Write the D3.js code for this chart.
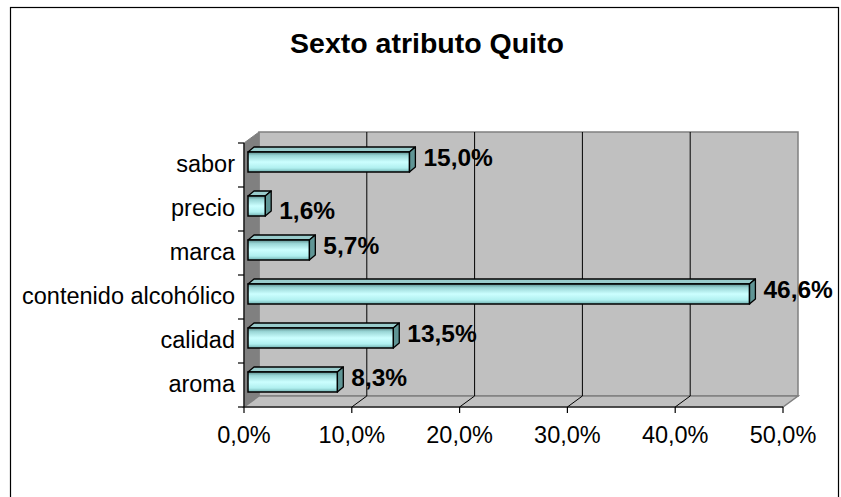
<!DOCTYPE html>
<html>
<head>
<meta charset="utf-8">
<script src="https://cdn.jsdelivr.net/npm/d3@7"></script>
<style>
  html, body { margin: 0; padding: 0; background: #fff; }
  svg { display: block; }
  text { font-family: "Liberation Sans", Arial, sans-serif; fill: #000; }
</style>
</head>
<body>
<svg id="chart" width="841" height="497"></svg>
<script>
// ---- data ----
const title = "Sexto atributo Quito";
const categories = ["sabor", "precio", "marca", "contenido alcohólico", "calidad", "aroma"];
const values = [0.150, 0.016, 0.057, 0.466, 0.135, 0.083];
const valueLabels = ["15,0%", "1,6%", "5,7%", "46,6%", "13,5%", "8,3%"];
const tickValues = [0, 0.1, 0.2, 0.3, 0.4, 0.5];
const tickLabels = ["0,0%", "10,0%", "20,0%", "30,0%", "40,0%", "50,0%"];

// ---- layout ----
const svg = d3.select("#chart");
const front = { left: 244, right: 783, top: 143, bottom: 407 };
const depth = { dx: 15, dy: -11 };   // wall depth offset
const barDepth = { dx: 6, dy: -5 };

const x = d3.scaleLinear().domain([0, 0.5]).range([front.left, front.right]);
const xBar = d3.scaleLinear().domain([0, 0.5]).range([front.left + 4, front.right + 3]);
const y = d3.scaleBand().domain(categories).range([front.top, front.bottom]).paddingInner(0).paddingOuter(0);

// outer border
svg.append("rect").attr("x", 10.5).attr("y", 7.5).attr("width", 828).attr("height", 520)
  .attr("fill", "#fff").attr("stroke", "#000").attr("stroke-width", 1.2);

// title
svg.append("text").attr("x", 427).attr("y", 53).attr("text-anchor", "middle")
  .style("font-size", "28.5px").style("font-weight", "bold").text(title);

// defs gradient
const defs = svg.append("defs");
const g1 = defs.append("linearGradient").attr("id", "barGrad").attr("x1", 0).attr("y1", 0).attr("x2", 0).attr("y2", 1);
[[0, "#5f9090"], [0.18, "#99d6d6"], [0.5, "#ccffff"], [0.8, "#b0f0f0"], [1, "#70b0b0"]].forEach(([o, c]) =>
  g1.append("stop").attr("offset", o).attr("stop-color", c));

// back wall
const bx0 = front.left + depth.dx, bx1 = front.right + depth.dx;
const by0 = front.top + depth.dy, by1 = front.bottom + depth.dy;
svg.append("rect").attr("x", bx0).attr("y", by0).attr("width", bx1 - bx0).attr("height", by1 - by0)
  .attr("fill", "#c0c0c0").attr("stroke", "#808080").attr("stroke-width", 1.5);

// left side wall
svg.append("polygon")
  .attr("points", [[front.left, front.top], [bx0, by0], [bx0, by1], [front.left, front.bottom]].map(p => p.join(",")).join(" "))
  .attr("fill", "#808080").attr("stroke", "#808080").attr("stroke-width", 1);

// floor
svg.append("polygon")
  .attr("points", [[front.left, front.bottom], [bx0, by1], [bx1, by1], [front.right, front.bottom]].map(p => p.join(",")).join(" "))
  .attr("fill", "#c0c0c0").attr("stroke", "#808080").attr("stroke-width", 1.5);

// gridlines on back wall + floor
const inner = tickValues.filter(v => v > 0 && v < 0.5);
svg.append("g").selectAll("path").data(inner).join("path")
  .attr("d", v => `M${x(v) + depth.dx},${by0} L${x(v) + depth.dx},${by1} L${x(v)},${front.bottom}`)
  .attr("fill", "none").attr("stroke", "#000").attr("stroke-width", 1);

// axes lines
svg.append("line").attr("x1", front.left).attr("x2", front.right).attr("y1", front.bottom).attr("y2", front.bottom)
  .attr("stroke", "#000").attr("stroke-width", 1.2);
svg.append("line").attr("x1", front.left).attr("x2", front.left).attr("y1", front.top).attr("y2", front.bottom)
  .attr("stroke", "#000").attr("stroke-width", 1.2);

// x ticks and labels
const xt = svg.append("g");
xt.selectAll("line").data(tickValues).join("line")
  .attr("x1", d => x(d)).attr("x2", d => x(d)).attr("y1", front.bottom).attr("y2", front.bottom + 6)
  .attr("stroke", "#000").attr("stroke-width", 1.2);
xt.selectAll("text").data(tickValues).join("text")
  .attr("x", d => x(d)).attr("y", 443).attr("text-anchor", "middle")
  .style("font-size", "23.5px").text((d, i) => tickLabels[i]);

// y ticks (band boundaries)
const bounds = categories.map(c => y(c)).concat([front.bottom]);
svg.append("g").selectAll("line").data(bounds).join("line")
  .attr("x1", front.left - 6).attr("x2", front.left).attr("y1", d => d).attr("y2", d => d)
  .attr("stroke", "#000").attr("stroke-width", 1.2);

// category labels
svg.append("g").selectAll("text").data(categories).join("text")
  .attr("x", 235).attr("y", d => y(d) + y.bandwidth() / 2 + 7).attr("text-anchor", "end")
  .style("font-size", "23.5px").text(d => d);

// bars
const barTopOff = 9, barH = 20;
const bars = svg.append("g").selectAll("g").data(categories.map((c, i) => ({ c, v: values[i], label: valueLabels[i] }))).join("g");
bars.each(function (d) {
  const g = d3.select(this);
  const x0 = xBar(0), x1 = xBar(d.v);
  const y0 = y(d.c) + barTopOff, y1 = y0 + barH;
  const dx = barDepth.dx, dy = barDepth.dy;
  // top face
  g.append("polygon").attr("points", [[x0, y0], [x0 + dx, y0 + dy], [x1 + dx, y0 + dy], [x1, y0]].map(p => p.join(",")).join(" "))
    .attr("fill", "#99cccc").attr("stroke", "#000").attr("stroke-width", 1.3).attr("stroke-linejoin", "round");
  // side face
  g.append("polygon").attr("points", [[x1, y0], [x1 + dx, y0 + dy], [x1 + dx, y1 + dy], [x1, y1]].map(p => p.join(",")).join(" "))
    .attr("fill", "#5f9595").attr("stroke", "#000").attr("stroke-width", 1.3).attr("stroke-linejoin", "round");
  // front face
  g.append("rect").attr("x", x0).attr("y", y0).attr("width", x1 - x0).attr("height", barH)
    .attr("fill", "url(#barGrad)").attr("stroke", "#000").attr("stroke-width", 1.5);
  // value label
  const small = d.v < 0.03 ? 9 : 0;
  g.append("text").attr("x", x1 + dx + 8).attr("y", y(d.c) + 23 + small)
    .style("font-size", "24.5px").style("font-weight", "bold").text(d.label);
});
</script>
</body>
</html>
